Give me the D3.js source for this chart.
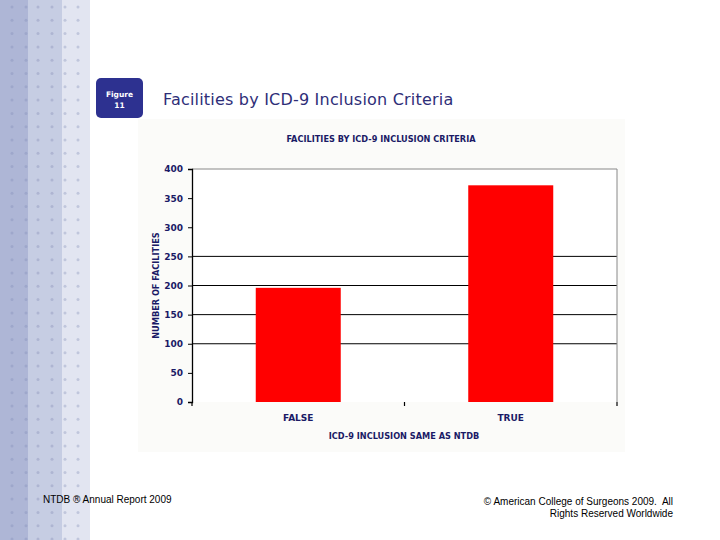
<!DOCTYPE html>
<html><head><meta charset="utf-8">
<script src="https://cdn.jsdelivr.net/npm/d3@7"></script>
<style>body{margin:0;background:#fff;}svg{display:block;}</style>
</head><body>
<script>
const categories = ["FALSE", "TRUE"];
const values = [196, 372];
const yTicks = [0, 50, 100, 150, 200, 250, 300, 350, 400];
const gridValues = [100, 150, 200, 250];
const chartTitle = "FACILITIES BY ICD-9 INCLUSION CRITERIA";
const xTitle = "ICD-9 INCLUSION SAME AS NTDB";
const yTitle = "NUMBER OF FACILITIES";

const W = 720, H = 540;
const svg = d3.select("body").append("svg").attr("width", W).attr("height", H);

// decorative left strip
const strips = [[0, 28, "#aeb6d6"], [28, 62, "#c6cde3"], [62, 90, "#e2e5f1"]];
strips.forEach(s => svg.append("rect").attr("x", s[0]).attr("y", 0).attr("width", s[1]-s[0]).attr("height", H).attr("fill", s[2]));
const dotX = [12, 26, 38, 52, 65, 78];
const dotCol = ["#9ea7cb", "#9ea7cb", "#aeb5d2", "#aeb5d2", "#c0c6dc", "#c0c6dc"];
const dots = svg.append("g");
for (let y = 7; y < H; y += 13.3) {
  dotX.forEach((x, i) => dots.append("circle").attr("cx", x).attr("cy", y).attr("r", 1.5).attr("fill", dotCol[i]));
}

// figure badge
svg.append("rect").attr("x", 96).attr("y", 78).attr("width", 47).attr("height", 40).attr("rx", 5).attr("fill", "#2d3190");
svg.append("text").attr("x", 119.5).attr("y", 97).attr("text-anchor", "middle").attr("fill", "#fff")
  .style("font", "bold 7.5px Verdana, 'DejaVu Sans', sans-serif").text("Figure");
svg.append("text").attr("x", 119.5).attr("y", 108).attr("text-anchor", "middle").attr("fill", "#fff")
  .style("font", "bold 7.5px Verdana, 'DejaVu Sans', sans-serif").text("11");

// slide title
svg.append("text").attr("x", 163).attr("y", 105).attr("fill", "#2e2e78")
  .style("font", "16px 'DejaVu Sans', Verdana, sans-serif").style("letter-spacing", "0.2px")
  .text("Facilities by ICD-9 Inclusion Criteria");

// chart panel
svg.append("rect").attr("x", 138).attr("y", 119).attr("width", 487).attr("height", 333).attr("fill", "#fbfbf9");

const m = {left: 192, right: 617, top: 169, bottom: 402};
const x = d3.scaleBand().domain(categories).range([m.left, m.right]).padding(0);
const y = d3.scaleLinear().domain([0, 400]).range([m.bottom, m.top]);

svg.append("rect").attr("x", m.left).attr("y", m.top).attr("width", m.right - m.left).attr("height", m.bottom - m.top).attr("fill", "#fff");

// gridlines
svg.append("g").selectAll("line").data(gridValues).join("line")
  .attr("x1", m.left).attr("x2", m.right).attr("y1", d => y(d)).attr("y2", d => y(d))
  .attr("stroke", "#000").attr("stroke-width", 1);

// bars
const bw = x.bandwidth() * 0.4;
svg.append("g").selectAll("rect").data(values).join("rect")
  .attr("x", (d, i) => x(categories[i]) + (x.bandwidth() - bw) / 2)
  .attr("y", d => y(d)).attr("width", bw).attr("height", d => y(0) - y(d))
  .attr("fill", "#ff0000");

// border top/right gray
svg.append("path").attr("d", `M${m.left},${m.top}H${m.right}V${m.bottom}`).attr("fill", "none").attr("stroke", "#888").attr("stroke-width", 1);

const font = "bold 9px Tahoma, 'DejaVu Sans', sans-serif";
const tfont = "bold 8.2px Tahoma, 'DejaVu Sans', sans-serif";
const navy = "#1a1a66";

// y axis
const yAxis = svg.append("g").attr("transform", `translate(${m.left},0)`)
  .call(d3.axisLeft(y).tickValues(yTicks).tickSize(4).tickPadding(5));
yAxis.select(".domain").attr("stroke", "#000").attr("stroke-width", 1.3);
yAxis.selectAll("line").attr("stroke", "#000");
yAxis.selectAll("text").style("font", font).attr("fill", navy);

// x axis ticks (no domain line)
const boundaries = [m.left, m.left + x.step(), m.right];
svg.append("g").selectAll("line").data(boundaries).join("line")
  .attr("x1", d => d).attr("x2", d => d).attr("y1", m.bottom).attr("y2", m.bottom + 4)
  .attr("stroke", "#000").attr("stroke-width", 1.2);
svg.append("g").selectAll("text").data(categories).join("text")
  .attr("x", d => x(d) + x.bandwidth() / 2).attr("y", 421).attr("text-anchor", "middle")
  .style("font", font).attr("fill", navy).text(d => d);

// titles
svg.append("text").attr("x", 381).attr("y", 142).attr("text-anchor", "middle")
  .style("font", tfont).attr("fill", navy).text(chartTitle);
svg.append("text").attr("x", 404).attr("y", 439).attr("text-anchor", "middle")
  .style("font", tfont).attr("fill", navy).text(xTitle);
svg.append("text").attr("transform", `translate(159,${(m.top + m.bottom) / 2}) rotate(-90)`).attr("text-anchor", "middle")
  .style("font", tfont).attr("fill", navy).text(yTitle);

// footer
const ff = "10px Arial, 'Liberation Sans', sans-serif";
svg.append("text").attr("x", 43).attr("y", 503).style("font", ff).attr("fill", "#000").text("NTDB\u00A0® Annual Report 2009");
svg.append("text").attr("x", 673).attr("y", 505).attr("text-anchor", "end").style("font", ff).attr("fill", "#000").text("© American College of Surgeons 2009.\u00A0 All");
svg.append("text").attr("x", 673).attr("y", 517).attr("text-anchor", "end").style("font", ff).attr("fill", "#000").text("Rights Reserved Worldwide");
</script>
</body></html>
